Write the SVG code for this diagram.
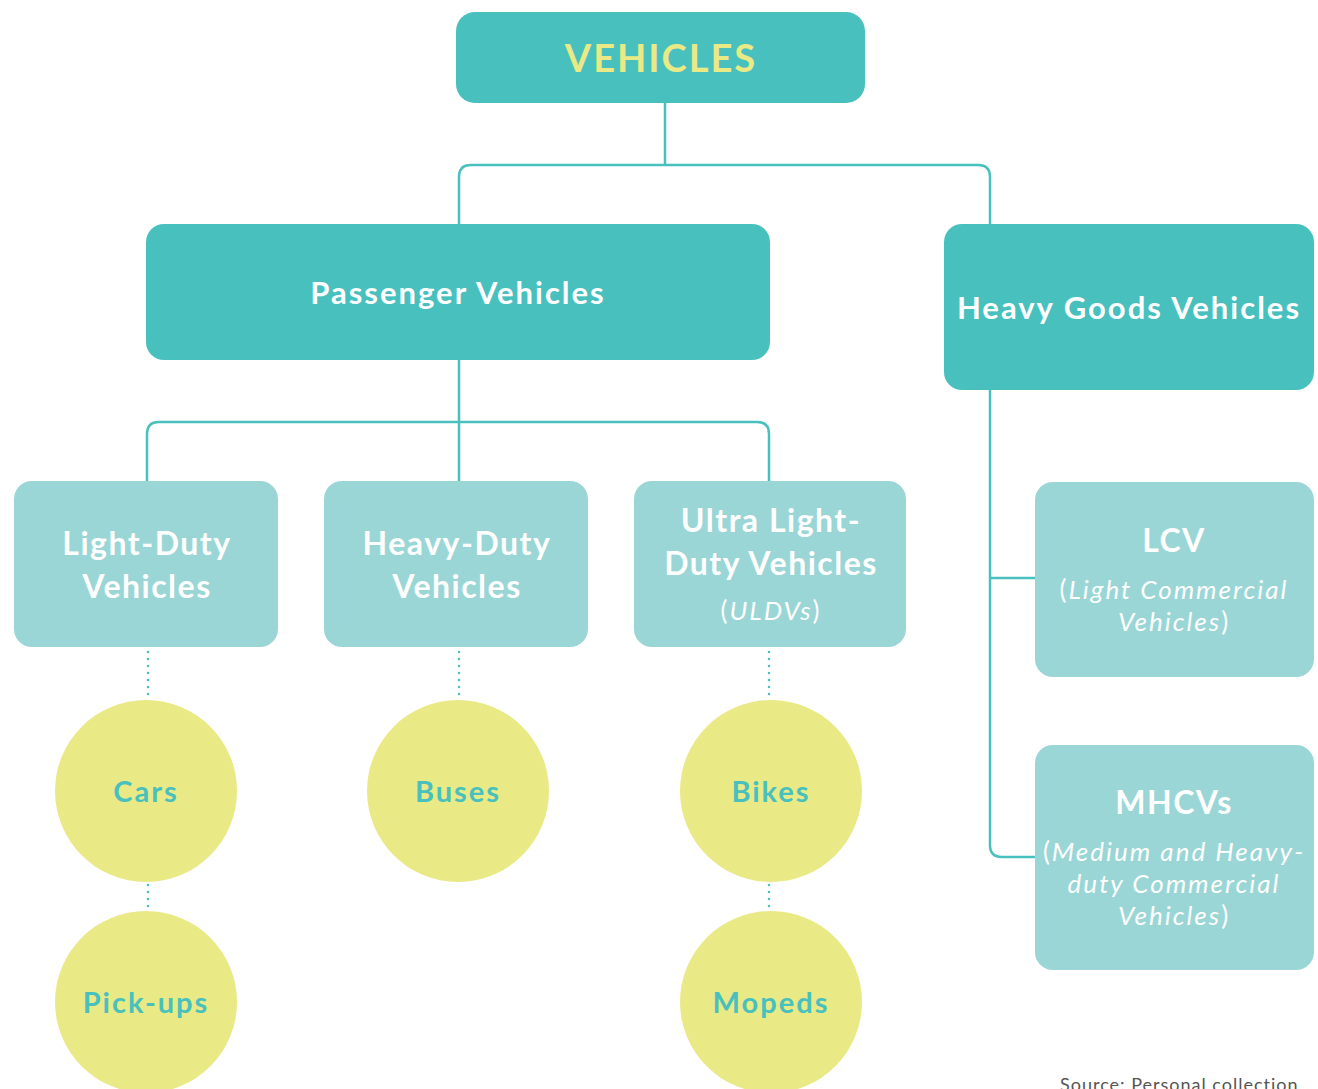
<svg xmlns="http://www.w3.org/2000/svg" width="1318" height="1089" viewBox="0 0 1318 1089">
  <style>
    .top { fill: #48C1BE; }
    .sub { fill: #9AD6D5; }
    .leaf { fill: #E9E986; }
    .link { fill: none; stroke: #48C1BE; stroke-width: 2.5; }
    .dots { fill: none; stroke: #48C1BE; stroke-width: 2.5; stroke-dasharray: 0 7; stroke-linecap: round; }
    text { font-family: Lato, "Open Sans", sans-serif; text-anchor: middle; }
    .title { fill: #E9E986; font-weight: bold; font-size: 38px; letter-spacing: 2px; }
    .head { fill: #FFFFFF; font-weight: bold; font-size: 31px; letter-spacing: 2px; }
    .label { fill: #FFFFFF; font-weight: bold; font-size: 32px; letter-spacing: 1.5px; }
    .note { fill: #FFFFFF; font-style: italic; font-size: 26px; letter-spacing: 2px; }
    .paren { font-style: normal; }
    .leaftext { fill: #48C1BE; font-weight: bold; font-size: 29px; letter-spacing: 2px; }
    .source { fill: #555555; font-size: 18px; letter-spacing: 1px; text-anchor: start; }
  </style>

  <!-- connectors -->
  <g id="connectors">
    <path class="link" d="M665 103 V165"/>
    <path class="link" d="M459 225 V177 Q459 165 471 165 H978 Q990 165 990 177 V225"/>
    <path class="link" d="M459 360 V482"/>
    <path class="link" d="M147 482 V434 Q147 422 159 422 H757 Q769 422 769 434 V482"/>
    <path class="link" d="M990 390 V845 Q990 857 1002 857 H1035"/>
    <path class="link" d="M990 578 H1035"/>
    <path class="dots" d="M148 652 V700"/>
    <path class="dots" d="M148 885 V911"/>
    <path class="dots" d="M459 652 V700"/>
    <path class="dots" d="M769 652 V700"/>
    <path class="dots" d="M769 885 V911"/>
  </g>

  <g id="vehicles">
    <rect class="top" x="456" y="12" width="409" height="91" rx="19"/>
    <text class="title" x="661" y="72">VEHICLES</text>
  </g>

  <g id="passenger-vehicles">
    <rect class="top" x="146" y="224" width="624" height="136" rx="18"/>
    <text class="head" x="458" y="304">Passenger Vehicles</text>
  </g>

  <g id="heavy-goods-vehicles">
    <rect class="top" x="944" y="224" width="370" height="166" rx="18"/>
    <text class="head" x="1129" y="319">Heavy Goods Vehicles</text>
  </g>

  <g id="light-duty">
    <rect class="sub" x="14" y="481" width="264" height="166" rx="18"/>
    <text class="label" x="147" y="555">Light-Duty</text>
    <text class="label" x="147" y="598">Vehicles</text>
  </g>

  <g id="heavy-duty">
    <rect class="sub" x="324" y="481" width="264" height="166" rx="18"/>
    <text class="label" x="457" y="555">Heavy-Duty</text>
    <text class="label" x="457" y="598">Vehicles</text>
  </g>

  <g id="ultra-light-duty">
    <rect class="sub" x="634" y="481" width="272" height="166" rx="18"/>
    <text class="label" x="771" y="532">Ultra Light-</text>
    <text class="label" x="771" y="575">Duty Vehicles</text>
    <text class="note" x="771" y="620"><tspan class="paren">(</tspan>ULDVs<tspan class="paren">)</tspan></text>
  </g>

  <g id="lcv">
    <rect class="sub" x="1035" y="482" width="279" height="195" rx="18"/>
    <text class="label" x="1174" y="552">LCV</text>
    <text class="note" x="1174" y="599"><tspan class="paren">(</tspan>Light Commercial</text>
    <text class="note" x="1174" y="631">Vehicles<tspan class="paren">)</tspan></text>
  </g>

  <g id="mhcvs">
    <rect class="sub" x="1035" y="745" width="279" height="225" rx="18"/>
    <text class="label" x="1174" y="814">MHCVs</text>
    <text class="note" x="1174" y="861"><tspan class="paren">(</tspan>Medium and Heavy-</text>
    <text class="note" x="1174" y="893">duty Commercial</text>
    <text class="note" x="1174" y="925">Vehicles<tspan class="paren">)</tspan></text>
  </g>

  <g id="cars">
    <circle class="leaf" cx="146" cy="791" r="91"/>
    <text class="leaftext" x="146" y="802">Cars</text>
  </g>

  <g id="pick-ups">
    <circle class="leaf" cx="146" cy="1002" r="91"/>
    <text class="leaftext" x="146" y="1013">Pick-ups</text>
  </g>

  <g id="buses">
    <circle class="leaf" cx="458" cy="791" r="91"/>
    <text class="leaftext" x="458" y="802">Buses</text>
  </g>

  <g id="bikes">
    <circle class="leaf" cx="771" cy="791" r="91"/>
    <text class="leaftext" x="771" y="802">Bikes</text>
  </g>

  <g id="mopeds">
    <circle class="leaf" cx="771" cy="1002" r="91"/>
    <text class="leaftext" x="771" y="1013">Mopeds</text>
  </g>

  <text class="source" x="1060" y="1091">Source: Personal collection</text>
</svg>
